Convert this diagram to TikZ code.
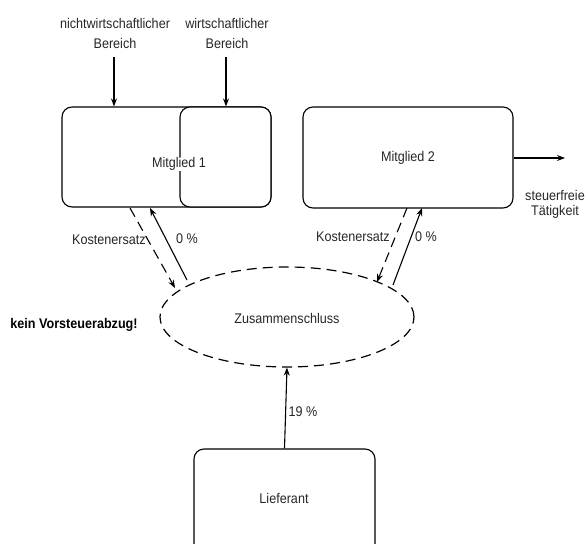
\documentclass[tikz,border=0pt]{standalone}
\usepackage{fontspec}
\setmainfont{Liberation Sans}[FakeStretch=0.9]
\usetikzlibrary{arrows.meta,shapes.geometric}
\begin{document}
\begin{tikzpicture}[x=1pt,y=-1pt,
  every node/.style={font=\fontsize{14}{15}\selectfont, inner sep=0pt},
  box/.style={draw, line width=1.1pt, rounded corners=10pt, rectangle},
  arr/.style={line width=1.1pt, -{Stealth[length=8pt,width=6pt]}},
  darr/.style={arr, dash pattern=on 10pt off 6pt},
  lbl/.style={text=black!85}]
\useasboundingbox (0,0) rectangle (587,544);
\clip (0,0) rectangle (587,544);
% Mitglied 1 (two parts)
\node[box, minimum width=209pt, minimum height=100pt] (m1) at (166.5,157) {};
\node[box, fill=white, minimum width=91pt, minimum height=100pt] (m1r) at (225.5,157) {};
\node[lbl, fill=white, inner sep=0.5pt] (m1t) at (179,164) {Mitglied 1};
% Mitglied 2
\node[box, minimum width=210pt, minimum height=101pt] (m2) at (408,157.5) {};
\node[lbl] (m2t) at (408,158) {Mitglied 2};
% Zusammenschluss
\node[ellipse, draw, line width=1.2pt, dash pattern=on 10pt off 6pt,
      minimum width=254pt, minimum height=100pt] (z) at (287,317) {};
\node[lbl] (zt) at (287,318) {Zusammenschluss};
% Lieferant
\node[box, minimum width=181pt, minimum height=112pt] (lf) at (284.5,505) {};
\node[lbl] (lft) at (284,498) {Lieferant};
% top labels
\node[lbl, align=center, font=\fontsize{14}{20}\selectfont] (nw) at (115,33) {nichtwirtschaftlicher\\Bereich};
\node[lbl, align=center, font=\fontsize{14}{20}\selectfont] (w) at (227,33) {wirtschaftlicher\\Bereich};
\coordinate (nwa) at (114,57);
\coordinate (wa) at (226,57);
\draw[arr] (nwa) -- (nwa |- m1.north);
\draw[arr] (wa) -- (wa |- m1.north);
% steuerfreie Taetigkeit
\coordinate (sf) at (565,158);
\draw[arr] (m2.east |- sf) -- (sf);
\node[lbl, align=center, font=\fontsize{14}{15.5}\selectfont] (st) at (555,204.5) {steuerfreie\\Tätigkeit};
% left pair
\coordinate (a1s) at (130,208);
\coordinate (a1e) at (175,288);
\coordinate (b1s) at (187,280);
\coordinate (b1e) at (150,208);
\draw[darr] (a1s) -- (a1e);
\draw[arr] (b1s) -- (b1e);
\node[lbl] (k1) at (109,240) {Kostenersatz};
\node[lbl] (p1) at (187,239) {0 \%};
% right pair
\coordinate (a2s) at (407,208);
\coordinate (a2e) at (377,282);
\coordinate (b2s) at (393,285);
\coordinate (b2e) at (422,208);
\draw[darr] (a2s) -- (a2e);
\draw[arr] (b2s) -- (b2e);
\node[lbl] (k2) at (353,237) {Kostenersatz};
\node[lbl] (p2) at (426,237) {0 \%};
% Lieferant arrow
\draw[arr] (lf.north) -- (z.south);
\node[lbl] (p3) at (303,412) {19 \%};
% kein Vorsteuerabzug
\node[font=\fontsize{14}{15}\selectfont\bfseries] (kv) at (74,325) {kein Vorsteuerabzug!};
\end{tikzpicture}
\end{document}
